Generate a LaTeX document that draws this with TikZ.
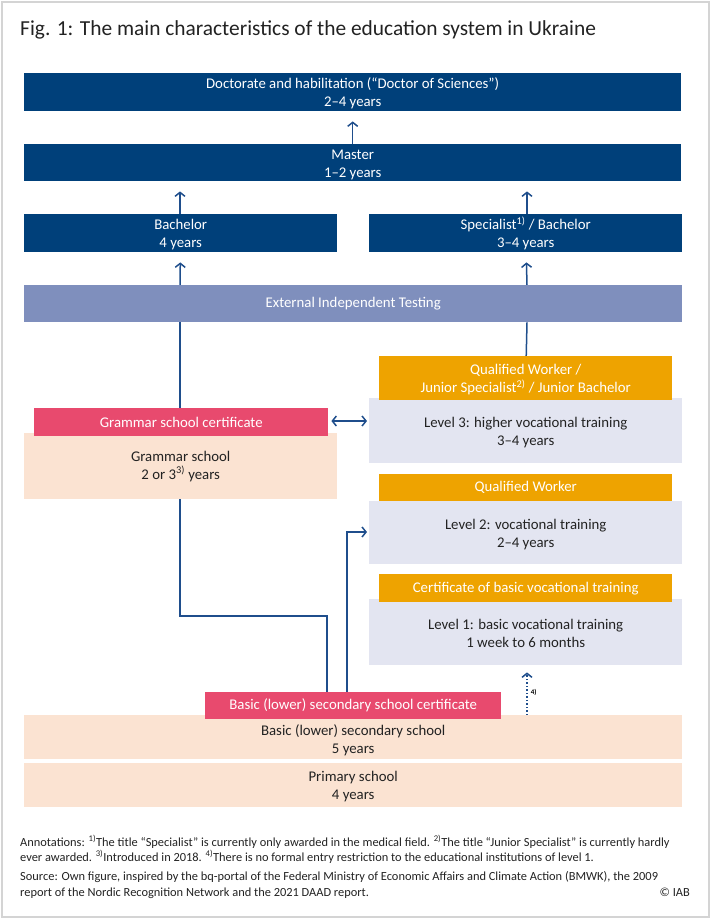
\documentclass[tikz,border=0pt]{standalone}
\usepackage{fontspec}
\setmainfont{Carlito}
\usetikzlibrary{arrows.meta, backgrounds}

\definecolor{iabblue}{HTML}{00407A}
\definecolor{iabline}{HTML}{1F4E8C}
\definecolor{eitblue}{HTML}{7F8FBD}
\definecolor{certpink}{HTML}{E84A6E}
\definecolor{schoolpeach}{HTML}{FBE3D2}
\definecolor{voclav}{HTML}{E3E5F1}
\definecolor{vocorange}{HTML}{EEA300}
\definecolor{framegray}{HTML}{D4D4D4}
\definecolor{txt}{HTML}{222222}

\begin{document}
\begin{tikzpicture}[x=1pt, y=-1pt,
    box/.style = {anchor=north west, inner sep=0pt, align=center, font=\fontsize{14.8}{18}\selectfont},
    dark/.style = {box, fill=iabblue, text=white},
    testbox/.style = {box, fill=eitblue, text=white},
    cert/.style = {box, fill=certpink, text=white},
    school/.style = {box, fill=schoolpeach, text=txt},
    voc/.style = {box, fill=voclav, text=txt},
    title/.style = {box, fill=vocorange, text=white},
    note/.style = {anchor=base west, inner sep=0pt, text=txt, font=\fontsize{12.4}{14}\selectfont},
    link/.style = {draw=iabline, line width=1.5pt},
    arr/.style = {link, -{Straight Barb[length=4pt, width=10pt]}},
    ]
    \useasboundingbox (0,0) rectangle (711,919);
    \draw[framegray, line width=1.5pt] (2,2) rectangle (709,917);

    \node[anchor=base west, inner sep=0pt, text=txt, font=\fontsize{21.4}{24}\selectfont] (head) at (20,35)
        {Fig. 1: The main characteristics of the education system in Ukraine};

    % higher education
    \node[dark, minimum width=657pt, minimum height=38pt] (doc) at (24,73)
        {\rule{0pt}{13pt}Doctorate and habilitation (“Doctor of Sciences”)\\2–4 years};
    \node[dark, minimum width=657pt, minimum height=37pt] (master) at (24,144)
        {\rule{0pt}{13pt}Master\\1–2 years};
    \node[dark, minimum width=313pt, minimum height=38pt] (bach) at (24,214)
        {\rule{0pt}{13pt}Bachelor\\4 years};
    \node[dark, minimum width=313pt, minimum height=38pt] (spec) at (369,214)
        {Specialist\textsuperscript{1)} / Bachelor\\3–4 years};
    \node[testbox, minimum width=658pt, minimum height=37pt] (eit) at (24,285) {External Independent Testing};

    % vocational training
    \node[voc, minimum width=313pt, minimum height=65pt] (lvl3) at (369,398)
        {\rule{0pt}{13pt}Level 3: higher vocational training\\3–4 years};
    \node[title, minimum width=293pt, minimum height=44pt] (qjs) at (379,356)
        {\rule{0pt}{13pt}Qualified Worker /\\Junior Specialist\textsuperscript{2)} / Junior Bachelor};
    \node[voc, minimum width=313pt, minimum height=63pt] (lvl2) at (369,501)
        {\rule{0pt}{13pt}Level 2: vocational training\\2–4 years};
    \node[title, minimum width=293pt, minimum height=27pt] (qw) at (379,474) {Qualified Worker};
    \node[voc, minimum width=313pt, minimum height=66pt] (lvl1) at (369,599)
        {\rule{0pt}{13pt}Level 1: basic vocational training\\1 week to 6 months};
    \node[title, minimum width=293pt, minimum height=28pt] (cbv) at (379,574)
        {Certificate of basic vocational training};

    % schools
    \node[school, minimum width=313pt, minimum height=66pt] (gram) at (24,433)
        {Grammar school\\2 or 3\textsuperscript{3)} years};
    \node[cert, minimum width=294pt, minimum height=28pt] (gcert) at (34,408) {Grammar school certificate};
    \node[school, minimum width=658pt, minimum height=44pt] (basic) at (24,715)
        {\rule{0pt}{17pt}Basic (lower) secondary school\\5 years};
    \node[school, minimum width=658pt, minimum height=44pt] (prim) at (24,763)
        {\rule{0pt}{13pt}Primary school\\4 years};
    \node[cert, minimum width=296pt, minimum height=27pt] (bcert) at (205,692)
        {Basic (lower) secondary school certificate};

    \coordinate (bend1) at (180,616);
    \coordinate (bend2) at (327,616);
    \coordinate (bend3) at (347,532);

    \begin{scope}[on background layer]
    \draw[arr, shorten >=10pt] (master) -- (doc);
    \draw[arr, shorten >=10pt] (bach.north -| 180,0) -- (master.south -| 180,0);
    \draw[arr, shorten >=10pt] (spec.north -| 527,0) -- (master.south -| 527,0);
    \draw[arr, shorten >=10pt] (eit.north -| 180,0) -- (bach);
    \draw[arr, shorten >=10pt] (eit.north -| 527,0) -- (spec);
    \draw[link] (eit.south -| 180,0) -- (bend1) -- (bend2) -- (bcert.north -| bend2);
    \draw[link] (eit.south -| 527,0) -- (qjs);
    \draw[link, {Straight Barb[length=4pt, width=10pt]}-{Straight Barb[length=4pt, width=10pt]},
        shorten <=3pt, shorten >=2pt] (gcert.east |- 0,421) -- (lvl3.west |- 0,421);
    \draw[arr, shorten >=2pt] (bcert.north -| bend3) -- (bend3) -- (lvl2.west |- bend3);
    \draw[arr, dotted, shorten >=7pt] (basic.north -| 527,0) -- (lvl1.south -| 527,0)
        node[pos=0.45, right, inner sep=3pt, text=black, font=\fontsize{7}{8}\selectfont\bfseries] {4)};
    \end{scope}

    % notes
    \node[note] (ann1) at (20,846) {Annotations: \textsuperscript{1)}The title “Specialist” is currently only awarded in the medical field. \textsuperscript{2)}The title “Junior Specialist” is currently hardly};
    \node[note] (ann2) at (20,861) {ever awarded. \textsuperscript{3)}Introduced in 2018. \textsuperscript{4)}There is no formal entry restriction to the educational institutions of level 1.};
    \node[note] (src1) at (20,880) {Source: Own figure, inspired by the bq-portal of the Federal Ministry of Economic Affairs and Climate Action (BMWK), the 2009};
    \node[note] (src2) at (20,896) {report of the Nordic Recognition Network and the 2021 DAAD report.};
    \node[note, anchor=base east] (iab) at (690,896) {© IAB};
\end{tikzpicture}
\end{document}
